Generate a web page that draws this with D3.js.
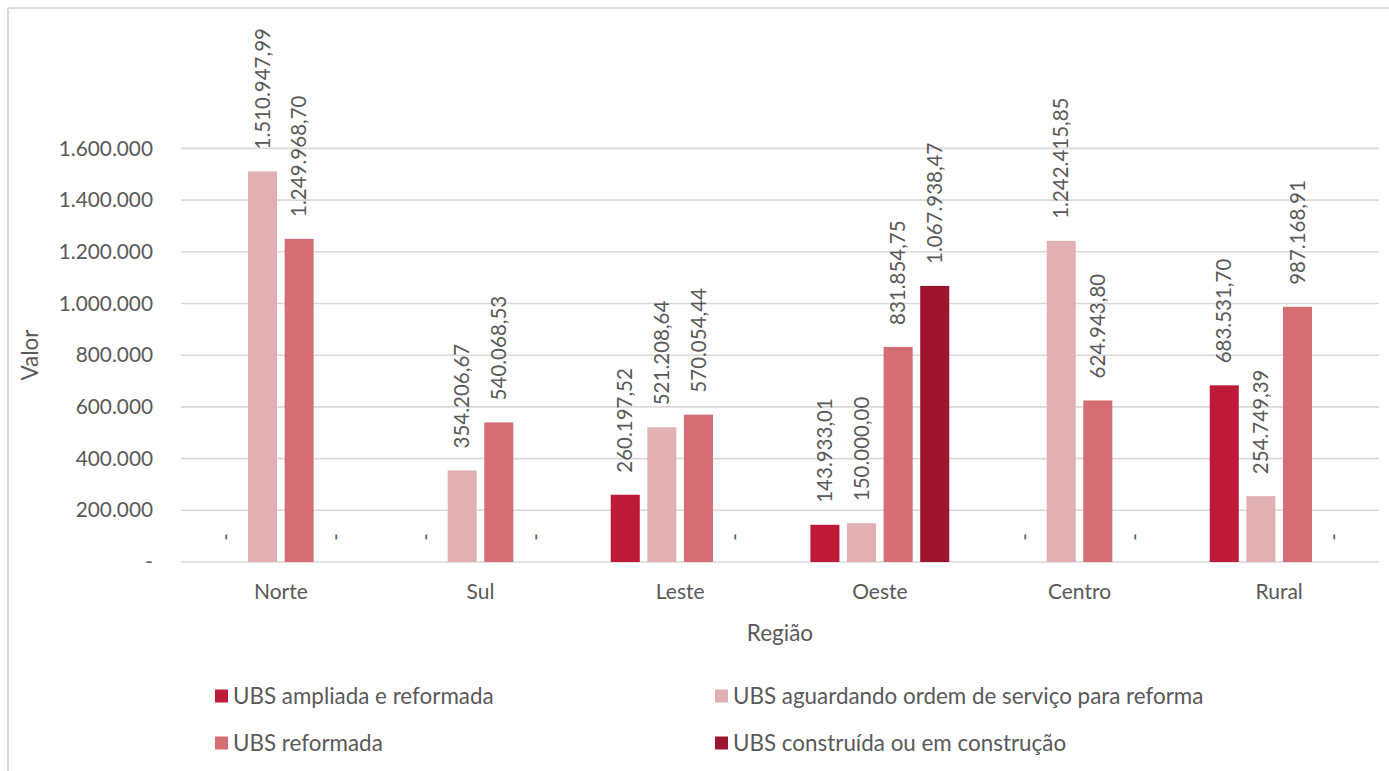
<!DOCTYPE html>
<html>
<head>
<meta charset="utf-8">
<script src="https://cdn.jsdelivr.net/npm/d3@7"></script>
<style>
  html, body { margin: 0; padding: 0; background: #fff; }
  svg { display: block; }
  text { font-family: Lato, "Open Sans", sans-serif; fill: #595959; }
</style>
</head>
<body>
<svg id="chart" width="1389" height="771"></svg>
<script>
const categories = ["Norte", "Sul", "Leste", "Oeste", "Centro", "Rural"];
const seriesNames = [
  "UBS ampliada e reformada",
  "UBS aguardando ordem de serviço para reforma",
  "UBS reformada",
  "UBS construída ou em construção"
];
const seriesColors = ["#BE1B3B", "#E2B0B3", "#D46D74", "#9E132E"];
const ampliada    = [0, 0, 260197.52, 143933.01, 0, 683531.70];
const aguardando  = [1510947.99, 354206.67, 521208.64, 150000.00, 1242415.85, 254749.39];
const reformada   = [1249968.70, 540068.53, 570054.44, 831854.75, 624943.80, 987168.91];
const construida  = [0, 0, 0, 1067938.47, 0, 0];
const yTicks = [0, 200000, 400000, 600000, 800000, 1000000, 1200000, 1400000, 1600000];
const yTitle = "Valor";
const xTitle = "Região";

const seriesValues = [ampliada, aguardando, reformada, construida];

const locale = d3.formatLocale({decimal: ",", thousands: ".", grouping: [3], currency: ["", ""]});
const fmtTick = v => v === 0 ? "-" : locale.format(",.0f")(v);
const fmtLabel = v => v === 0 ? "-" : locale.format(",.2f")(v);

const svg = d3.select("#chart");

// chart frame (partially cropped)
svg.append("line").attr("x1", 8).attr("x2", 8).attr("y1", 8).attr("y2", 771)
  .attr("stroke", "#D9D9D9").attr("stroke-width", 2);
svg.append("line").attr("x1", 8).attr("x2", 1389).attr("y1", 8).attr("y2", 8)
  .attr("stroke", "#D9D9D9").attr("stroke-width", 2);

const plotLeft = 181, plotRight = 1379, plotTop = 148.4, plotBottom = 562;

const x = d3.scaleBand().domain(categories).range([plotLeft, plotRight]).paddingInner(0).paddingOuter(0);
const y = d3.scaleLinear().domain([0, 1600000]).range([plotBottom, plotTop]);

const barW = x.bandwidth() * 0.1455;
const step = barW * 1.26;
const nS = seriesNames.length;

// gridlines
svg.append("g").selectAll("line").data(yTicks).join("line")
  .attr("x1", plotLeft).attr("x2", plotRight)
  .attr("y1", d => y(d)).attr("y2", d => y(d))
  .attr("stroke", "#D9D9D9").attr("stroke-width", 1.6);

// y axis labels
const yAxis = d3.axisLeft(y).tickValues(yTicks).tickFormat(fmtTick).tickSize(0).tickPadding(0);
const gy = svg.append("g").attr("transform", `translate(153,0)`).call(yAxis);
gy.select(".domain").remove();
gy.selectAll("text").style("font-size", "20.8px").style("font-family", "Lato, sans-serif").attr("fill", "#595959");

// x axis labels
const xAxis = d3.axisBottom(x).tickSize(0).tickPadding(0);
const gx = svg.append("g").attr("transform", `translate(0,${plotBottom + 22})`).call(xAxis);
gx.select(".domain").remove();
gx.selectAll("text").style("font-size", "21px").style("font-family", "Lato, sans-serif").attr("fill", "#595959");

// bars
const data = [];
categories.forEach((c, ci) => {
  seriesValues.forEach((vals, si) => {
    data.push({c, si, v: vals[ci]});
  });
});
const cx = d => x(d.c) + x.bandwidth() / 2 + (d.si - (nS - 1) / 2) * step;

svg.append("g").selectAll("rect").data(data.filter(d => d.v > 0)).join("rect")
  .attr("x", d => cx(d) - barW / 2)
  .attr("width", barW)
  .attr("y", d => y(d.v))
  .attr("height", d => y(0) - y(d.v))
  .attr("fill", d => seriesColors[d.si]);

// data labels
svg.append("g").selectAll("text").data(data).join("text")
  .attr("transform", d => d.v > 0
      ? `translate(${cx(d)},${y(d.v) - 22}) rotate(-90)`
      : `translate(${cx(d)},${y(0) - 25}) rotate(-90)`)
  .attr("dy", "0.35em")
  .attr("text-anchor", d => d.v > 0 ? "start" : "middle")
  .style("font-size", "20.5px")
  .text(d => fmtLabel(d.v));

// axis titles
svg.append("text")
  .attr("transform", `translate(30,355) rotate(-90)`)
  .attr("text-anchor", "middle").attr("dy", "0.35em")
  .style("font-size", "22.5px").text(yTitle);
svg.append("text")
  .attr("x", (plotLeft + plotRight) / 2).attr("y", 633)
  .attr("text-anchor", "middle").attr("dy", "0.35em")
  .style("font-size", "22.5px").text(xTitle);

// legend
const legendPos = [[215, 696], [715, 696], [215, 743], [715, 743]];
const lg = svg.append("g").selectAll("g").data(seriesNames).join("g")
  .attr("transform", (d, i) => `translate(${legendPos[i][0]},${legendPos[i][1]})`);
lg.append("rect").attr("x", 0).attr("y", -6.5).attr("width", 13).attr("height", 13)
  .attr("fill", (d, i) => seriesColors[i]);
lg.append("text").attr("x", 18).attr("dy", "0.35em").style("font-size", "22.4px").text(d => d);
</script>
</body>
</html>
